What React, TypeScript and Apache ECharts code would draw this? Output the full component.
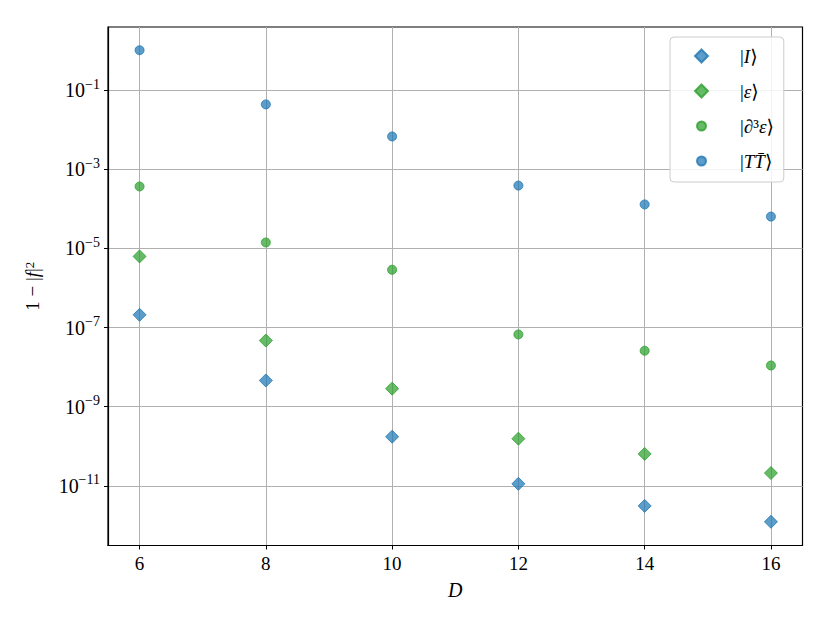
import React, { useEffect, useRef } from "react";
import * as echarts from "echarts";

const dValues = [6, 8, 10, 12, 14, 16];
const seriesI = [2.1e-7, 4.6e-9, 1.74e-10, 1.12e-11, 3.1e-12, 1.23e-12];
const seriesEps = [6.3e-6, 4.7e-8, 2.86e-9, 1.55e-10, 6.4e-11, 2.1e-11];
const seriesD3Eps = [3.7e-4, 1.42e-5, 2.9e-6, 6.7e-8, 2.6e-8, 1.1e-8];
const seriesTT = [1.03, 0.044, 0.0068, 3.9e-4, 1.3e-4, 6.4e-5];
const yTicks = [1e-11, 1e-9, 1e-7, 1e-5, 1e-3, 1e-1];
const xTicks = [6, 8, 10, 12, 14, 16];
const legendNames = ["|I⟩", "|ε⟩", "|∂³ε⟩", "|TT̄⟩"];

const FONT = "'Liberation Serif', 'DejaVu Serif', serif";
const BLUE = "#1f77b4";
const GREEN = "#2ca02c";
const SMALL_CIRCLE = "path://M0,0 M13,13 M11,6.5 A4.5,4.5 0 1 1 2,6.5 A4.5,4.5 0 1 1 11,6.5 Z";

export default function App() {
  const ref = useRef<HTMLDivElement>(null);
  useEffect(() => {
    const chart = echarts.init(ref.current!, null, { renderer: "svg" });
    const pts = (vals: number[]) => dValues.map((d, i) => [d, vals[i]]);
    const mk = (name: string, vals: number[], color: string, symbol: string, size: number) => ({
      name,
      type: "scatter",
      data: pts(vals),
      symbol,
      symbolSize: size,
      itemStyle: {
        color: color === BLUE ? "rgba(31,119,180,0.9)" : "rgba(44,160,44,0.9)",
        borderColor: color,
        borderWidth: 1,
      },
    });
    const legendRich = {
      i: { fontStyle: "italic", fontFamily: FONT, fontSize: 19, color: "#000" },
      n: { fontFamily: FONT, fontSize: 19, color: "#000" },
    };
    chart.setOption({
      animation: false,
      grid: { left: 108, right: 27.5, top: 27, bottom: 77.5, show: true, borderColor: "#000", borderWidth: 1.2, backgroundColor: "transparent" },
      legend: {
        orient: "vertical",
        left: 670,
        top: 37,
        width: 122,
        padding: [8, 10, 10, 24],
        itemGap: 13,
        itemWidth: 13,
        itemHeight: 13,
        backgroundColor: "rgba(255,255,255,0.85)",
        borderColor: "#cccccc",
        borderWidth: 1,
        borderRadius: 4,
        data: [
          { name: legendNames[0] },
          { name: legendNames[1] },
          { name: legendNames[2], icon: SMALL_CIRCLE },
          { name: legendNames[3], icon: SMALL_CIRCLE },
        ],
        formatter: (name: string) => {
          if (name === legendNames[0]) return "{n||}{i|I}{n|⟩}";
          if (name === legendNames[1]) return "{n||}{i|ε}{n|⟩}";
          if (name === legendNames[2]) return "{n||∂³}{i|ε}{n|⟩}";
          return "{n||}{i|TT̄}{n|⟩}";
        },
        textStyle: { fontFamily: FONT, fontSize: 19, color: "#000", padding: [0, 0, 0, 27], lineHeight: 22, rich: legendRich },
      },
      xAxis: {
        type: "value",
        min: 5.5,
        max: 16.5,
        name: "D",
        nameLocation: "middle",
        nameGap: 34,
        nameTextStyle: { fontFamily: FONT, fontSize: 20, fontStyle: "italic", color: "#000" },
        axisLine: { show: true, lineStyle: { color: "#000", width: 1.2 } },
        axisTick: { show: true, length: 4, lineStyle: { color: "#000" }, customValues: xTicks },
        axisLabel: { fontFamily: FONT, fontSize: 19, color: "#000", margin: 8, customValues: xTicks },
        splitLine: { show: true, lineStyle: { color: "#b0b0b0", width: 1 } },
      },
      yAxis: {
        type: "log",
        logBase: 10,
        min: Math.pow(10, -12.51),
        max: Math.pow(10, 0.6),
        name: "1 − |{i|f}|{s|2}",
        nameLocation: "middle",
        nameGap: 66,
        nameTextStyle: {
          fontFamily: FONT,
          fontSize: 19,
          color: "#000",
          rich: {
            i: { fontStyle: "italic", fontFamily: FONT, fontSize: 19, color: "#000" },
            s: { fontFamily: FONT, fontSize: 13, verticalAlign: "top", color: "#000" },
          },
        },
        axisLine: { show: true, lineStyle: { color: "#000", width: 1.2 } },
        axisTick: { show: true, length: 4, lineStyle: { color: "#000" }, customValues: yTicks },
        axisLabel: {
          fontFamily: FONT,
          color: "#000",
          margin: 8,
          customValues: yTicks,
          formatter: (v: number) => {
            const e = Math.round(Math.log10(v));
            return `{b|10}{s|−${-e}}`;
          },
          rich: {
            b: { fontFamily: FONT, fontSize: 20, lineHeight: 26, color: "#000" },
            s: { fontFamily: FONT, fontSize: 14, verticalAlign: "top", lineHeight: 26, color: "#000" },
          },
        },
        splitLine: { show: true, lineStyle: { color: "#b0b0b0", width: 1 } },
      },
      series: [
        mk(legendNames[0], seriesI, BLUE, "diamond", 13),
        mk(legendNames[1], seriesEps, GREEN, "diamond", 13),
        mk(legendNames[2], seriesD3Eps, GREEN, "circle", 9),
        mk(legendNames[3], seriesTT, BLUE, "circle", 9),
      ],
    });
    return () => chart.dispose();
  }, []);
  return <div ref={ref} style={{ position: "absolute", left: 0, top: 0, width: 830, height: 623 }} />;
}
